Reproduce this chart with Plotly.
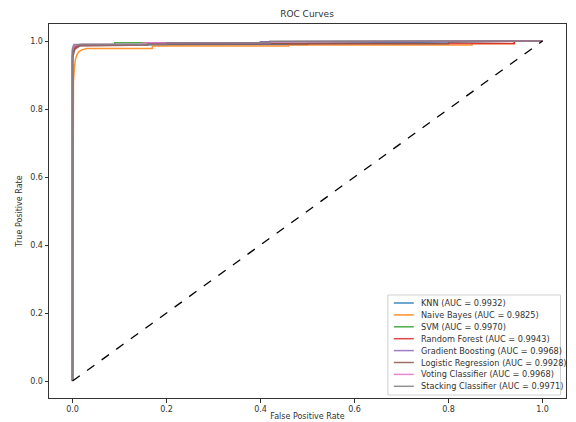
import plotly.graph_objects as go

names = ["KNN", "Naive Bayes", "SVM", "Random Forest", "Gradient Boosting",
         "Logistic Regression", "Voting Classifier", "Stacking Classifier"]
aucs = [0.9932, 0.9825, 0.9970, 0.9943, 0.9968, 0.9928, 0.9968, 0.9971]
colors = ["#1f77b4", "#ff7f0e", "#2ca02c", "#d62728", "#9467bd",
          "#8c564b", "#e377c2", "#7f7f7f"]

knn_fpr = [0, 0, 0.003, 0.010, 0.020, 0.20, 0.20, 0.50, 0.50, 1.0]
knn_tpr = [0, 0.955, 0.975, 0.985, 0.988, 0.988, 0.990, 0.990, 0.993, 1.0]

nb_fpr = [0, 0.002, 0.004, 0.006, 0.009, 0.013, 0.020, 0.030, 0.17, 0.17, 0.46, 0.46, 0.85, 0.85, 0.94, 0.94, 1.0]
nb_tpr = [0, 0.880, 0.920, 0.945, 0.958, 0.968, 0.974, 0.978, 0.978, 0.985, 0.985, 0.988, 0.988, 0.992, 0.992, 1.0, 1.0]

svm_fpr = [0, 0, 0.005, 0.020, 0.090, 0.090, 0.40, 0.40, 1.0]
svm_tpr = [0, 0.970, 0.985, 0.990, 0.990, 0.995, 0.995, 0.998, 1.0]

rf_fpr = [0, 0, 0.004, 0.015, 0.16, 0.16, 0.94, 0.94, 1.0]
rf_tpr = [0, 0.960, 0.980, 0.988, 0.990, 0.993, 0.993, 1.0, 1.0]

gb_fpr = [0, 0, 0.004, 0.015, 0.16, 0.16, 0.40, 0.40, 1.0]
gb_tpr = [0, 0.975, 0.985, 0.990, 0.990, 0.995, 0.995, 0.998, 1.0]

lr_fpr = [0, 0, 0.005, 0.015, 0.16, 0.16, 0.80, 0.80, 1.0]
lr_tpr = [0, 0.950, 0.975, 0.985, 0.988, 0.992, 0.992, 0.997, 1.0]

vc_fpr = [0, 0, 0.004, 0.015, 0.15, 0.15, 0.42, 0.42, 1.0]
vc_tpr = [0, 0.972, 0.985, 0.990, 0.990, 0.995, 0.995, 0.998, 1.0]

sc_fpr = [0, 0, 0.003, 0.20, 0.20, 0.42, 0.42, 1.0]
sc_tpr = [0, 0.980, 0.990, 0.990, 0.995, 0.995, 0.999, 1.0]

fprs = [knn_fpr, nb_fpr, svm_fpr, rf_fpr, gb_fpr, lr_fpr, vc_fpr, sc_fpr]
tprs = [knn_tpr, nb_tpr, svm_tpr, rf_tpr, gb_tpr, lr_tpr, vc_tpr, sc_tpr]

diag = [0, 1]

font = "DejaVu Sans, Arial, sans-serif"
txt = "#333"

fig = go.Figure()
for n, a, c, fx, ty in zip(names, aucs, colors, fprs, tprs):
    fig.add_trace(go.Scatter(x=fx, y=ty, mode="lines",
                             name=f"{n} (AUC = {a:.4f})", showlegend=False,
                             line=dict(color=c, width=1.5), opacity=0.85))
fig.add_trace(go.Scatter(x=diag, y=diag, mode="lines", showlegend=False,
                         line=dict(color="black", width=1.3, dash="dash")))

# compact matplotlib-style legend (paper coordinates)
W, H = 576, 422
ml, mr, mt, mb = 48.5, 9.5, 24, 24
pw, ph = W - ml - mr, H - mt - mb
def px2x(p): return (p - ml) / pw
def py2y(p): return (H - mb - p) / ph

box_l, box_r, box_t, box_b = 388, 561, 295, 395
shapes = [dict(type="rect", xref="paper", yref="paper",
               x0=px2x(box_l), x1=px2x(box_r), y0=py2y(box_b), y1=py2y(box_t),
               line=dict(color="#d0d0d0", width=1), fillcolor="rgba(255,255,255,0.8)",
               layer="above")]
annotations = []
row_h = 11.9
for i, (n, a, c) in enumerate(zip(names, aucs, colors)):
    yc = box_t + 8 + i * row_h
    shapes.append(dict(type="line", xref="paper", yref="paper",
                       x0=px2x(394), x1=px2x(414), y0=py2y(yc), y1=py2y(yc),
                       line=dict(color=c, width=1.5), opacity=0.85, layer="above"))
    annotations.append(dict(xref="paper", yref="paper", x=px2x(419), y=py2y(yc),
                            xanchor="left", yanchor="middle", showarrow=False,
                            text=f"{n} (AUC = {a:.4f})",
                            font=dict(size=8.2, color=txt, family=font)))

axis_common = dict(showline=True, linecolor="#333", linewidth=1, mirror=True,
                   ticks="outside", ticklen=3.5, tickwidth=0.8, tickcolor="#333",
                   showgrid=False, zeroline=False, automargin=False,
                   tickfont=dict(size=8, color=txt, family=font),
                   tickformat=".1f", dtick=0.2)

fig.update_layout(
    width=W, height=H,
    margin=dict(l=ml, r=mr, t=mt, b=mb),
    paper_bgcolor="white", plot_bgcolor="white",
    font=dict(family=font, color=txt),
    showlegend=False,
    title=dict(text="ROC Curves", x=px2x(307), xref="paper", xanchor="center",
               y=1 - 14 / H, yanchor="middle",
               font=dict(size=9, color=txt, family=font)),
    xaxis=dict(range=[-0.05, 1.05], title=dict(text="False Positive Rate", standoff=0,
               font=dict(size=8, color=txt, family=font)), **axis_common),
    yaxis=dict(range=[-0.05, 1.05], title=dict(text="True Positive Rate", standoff=6,
               font=dict(size=8, color=txt, family=font)), **axis_common),
    shapes=shapes, annotations=annotations,
)

fig.write_html("out.html", config={"displayModeBar": False},
               post_script="document.body.style.margin='0px';")
